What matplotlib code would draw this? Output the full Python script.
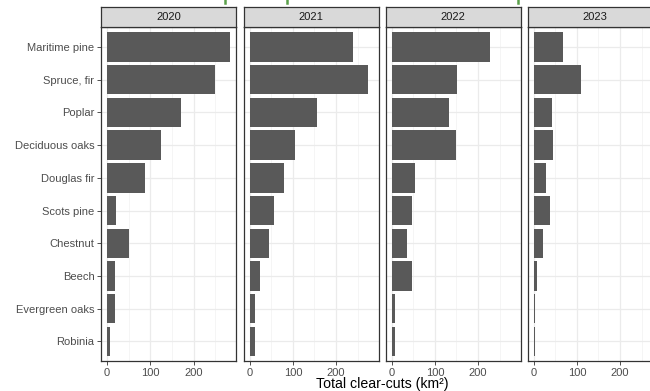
import matplotlib
matplotlib.use("Agg")
import matplotlib.pyplot as plt
from matplotlib.lines import Line2D
from matplotlib.ticker import MultipleLocator
import numpy as np

plt.rcParams['font.family'] = ['Liberation Sans', 'DejaVu Sans']

species = ["Maritime pine", "Spruce, fir", "Poplar", "Deciduous oaks", "Douglas fir",
           "Scots pine", "Chestnut", "Beech", "Evergreen oaks", "Robinia"]
years = ["2020", "2021", "2022", "2023"]
clearcuts_2020 = [284, 250, 170, 124, 88, 20, 50, 19, 19, 7]
clearcuts_2021 = [239, 273, 155, 104, 80, 57, 44, 25, 13, 12]
clearcuts_2022 = [228, 152, 133, 149, 54, 48, 36, 46, 7, 7]
clearcuts_2023 = [69, 110, 42, 44, 28, 38, 22, 7, 2, 2]
series = [clearcuts_2020, clearcuts_2021, clearcuts_2022, clearcuts_2023]
x_ticks = [0, 100, 200]

W, H = 650, 391
fig = plt.figure(figsize=(W / 100, H / 100), dpi=100)
fig.patch.set_facecolor("white")

panel_left = [101, 243.5, 385.5, 527.5]
panel_w = 135
panel_top, panel_bottom = 27.3, 361
strip_top = 7.3
small = 8.0

vmax = max(max(s) for s in series)
xlim = (-0.05 * vmax, 1.05 * vmax)
ypos = np.arange(len(species))

for i, (yr, vals) in enumerate(zip(years, series)):
    l = panel_left[i] / W
    ax = fig.add_axes([l, 1 - panel_bottom / H, panel_w / W, (panel_bottom - panel_top) / H])
    ax.set_facecolor("white")
    ax.barh(ypos, vals, height=0.9, color="#595959", zorder=3)
    ax.set_xlim(*xlim)
    ax.set_ylim(len(species) - 0.4, -0.6)
    ax.set_xticks(x_ticks)
    ax.xaxis.set_minor_locator(MultipleLocator(50))
    ax.set_yticks(ypos)
    ax.grid(which="major", color="#EBEBEB", linewidth=0.9, zorder=0)
    ax.grid(which="minor", axis="x", color="#F4F4F4", linewidth=0.6, zorder=0)
    ax.tick_params(axis="both", which="major", length=2.7, width=0.6, color="#333333",
                   labelsize=small, labelcolor="#4D4D4D", pad=2)
    ax.tick_params(axis="x", which="minor", length=0)
    ax.set_xticklabels([str(t) for t in x_ticks])
    if i == 0:
        ax.set_yticklabels(species)
    else:
        ax.set_yticklabels([])
        ax.tick_params(axis="y", length=0)
    for sp in ax.spines.values():
        sp.set_color("#333333")
        sp.set_linewidth(0.9)

    sax = fig.add_axes([l, 1 - panel_top / H, panel_w / W, (panel_top - strip_top) / H])
    sax.set_facecolor("#D9D9D9")
    sax.set_xticks([])
    sax.set_yticks([])
    for sp in sax.spines.values():
        sp.set_color("#333333")
        sp.set_linewidth(0.9)
    sax.text(0.5, 0.5, yr, ha="center", va="center", fontsize=small, color="#1A1A1A",
             transform=sax.transAxes)

fig.text(382 / W, 1 - 384 / H, "Total clear-cuts (km²)", ha="center", va="center",
         fontsize=10.2, color="black")

# lower edge of the green heading above the panels
for xp in (225, 287, 518):
    fig.add_artist(Line2D([xp / W, xp / W], [1.0, 1 - 3 / H], transform=fig.transFigure,
                          color="#5AA04A", linewidth=1.8))

fig.savefig("out.png", dpi=100, facecolor="white")
